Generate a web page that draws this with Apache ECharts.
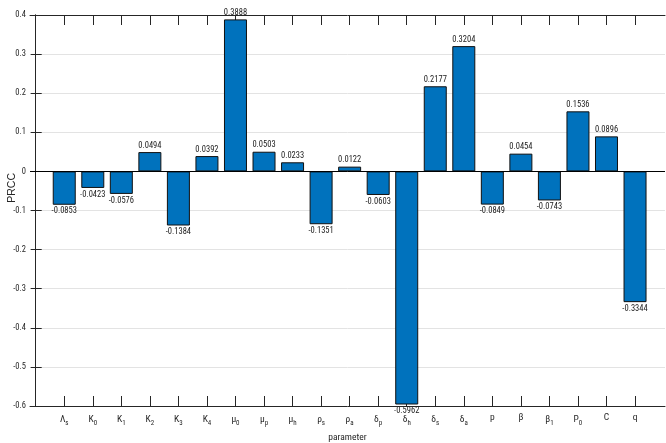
<!DOCTYPE html>
<html>
<head>
<meta charset="utf-8">
<script src="https://cdn.jsdelivr.net/npm/echarts@6/dist/echarts.min.js"></script>
<style>
  html, body { margin: 0; padding: 0; background: #fff; }
  #chart { width: 666px; height: 443px; }
</style>
</head>
<body>
<div id="chart"></div>
<script>
// Parameter names: base symbol and subscript
const paramBase = ['Λ', 'K', 'K', 'K', 'K', 'K', 'μ', 'μ', 'μ', 'ρ', 'ρ', 'δ', 'δ', 'δ', 'δ', 'p', 'β', 'β', 'P', 'C', 'q'];
const paramSub  = ['s', '0', '1', '2', '3', '4', '0', 'p', 'h', 's', 'a', 'p', 'h', 's', 'a', '', '', '1', '0', '', ''];
// Partial rank correlation coefficients
const prcc = [-0.0853, -0.0423, -0.0576, 0.0494, -0.1384, 0.0392, 0.3888, 0.0503, 0.0233, -0.1351, 0.0122,
              -0.0603, -0.5962, 0.2177, 0.3204, -0.0849, 0.0454, -0.0743, 0.1536, 0.0896, -0.3344];
const yTicks = [-0.6, -0.5, -0.4, -0.3, -0.2, -0.1, 0, 0.1, 0.2, 0.3, 0.4];

const FONT = "'Roboto Condensed', 'Liberation Sans', Arial, sans-serif";
const NAME_FONT = "'Liberation Sans', Arial, sans-serif";
const AXIS_COLOR = '#262626';
const positions = prcc.map((_, i) => i + 1);

function catLabel(v) {
  const i = Math.round(v) - 1;
  if (i < 0 || i >= paramBase.length) return '';
  const b = '{b|' + paramBase[i] + '}';
  return paramSub[i] ? b + '{s|' + paramSub[i] + '}' : b;
}

const chart = echarts.init(document.getElementById('chart'));

const xCommon = {
  type: 'value',
  min: -0.2,
  max: 22.05,
  splitLine: { show: false },
  axisLine: { show: true, onZero: false, lineStyle: { color: AXIS_COLOR, width: 1 } },
  axisTick: { show: true, inside: true, length: 10, customValues: positions, lineStyle: { color: AXIS_COLOR } }
};

chart.setOption({
  animation: false,
  textStyle: { fontFamily: FONT },
  grid: { left: 30, right: 1, top: 15, bottom: 37, outerBoundsMode: 'none', containLabel: false },
  xAxis: [
    Object.assign({}, xCommon, {
      position: 'bottom',
      name: 'parameter',
      nameLocation: 'middle',
      nameGap: 27,
      nameTextStyle: { color: AXIS_COLOR, fontSize: 9.5, fontFamily: FONT },
      axisLabel: {
        show: true,
        customValues: positions,
        margin: 7,
        color: AXIS_COLOR,
        formatter: catLabel,
        rich: {
          b: { fontSize: 9.5, fontFamily: FONT, color: AXIS_COLOR },
          s: { fontSize: 7, fontFamily: FONT, color: AXIS_COLOR, padding: [7, 0, 0, 0] }
        }
      }
    }),
    Object.assign({}, xCommon, {
      position: 'top',
      axisLabel: { show: false }
    })
  ],
  yAxis: [
    {
      type: 'value',
      min: -0.6,
      max: 0.4,
      interval: 0.1,
      axisLine: { show: true, lineStyle: { color: AXIS_COLOR } },
      axisTick: { show: true, inside: true, length: 6, lineStyle: { color: AXIS_COLOR } },
      axisLabel: {
        color: AXIS_COLOR, fontSize: 8.5, fontFamily: FONT, margin: 4,
        formatter: v => String(+v.toFixed(1))
      },
      splitLine: { show: true, lineStyle: { color: '#e3e3e3', width: 1 } }
    },
    {
      type: 'value',
      min: -0.6,
      max: 0.4,
      interval: 0.1,
      position: 'right',
      axisLine: { show: true, lineStyle: { color: AXIS_COLOR } },
      axisTick: { show: true, inside: true, length: 5, lineStyle: { color: AXIS_COLOR } },
      axisLabel: { show: false },
      splitLine: { show: false }
    }
  ],
  graphic: [
    {
      type: 'text',
      left: 7,
      top: 173,
      rotation: Math.PI / 2,
      style: { text: 'PRCC', fill: AXIS_COLOR, font: '10.5px ' + NAME_FONT }
    }
  ],
  series: [
    {
      type: 'bar',
      xAxisIndex: 0,
      yAxisIndex: 0,
      barWidth: 23,
      itemStyle: { color: '#0072BD', borderColor: '#111', borderWidth: 1 },
      label: {
        show: true,
        distance: 2,
        fontSize: 8.5,
        fontFamily: FONT,
        color: '#222',
        formatter: p => p.value[1].toFixed(4)
      },
      data: prcc.map((v, i) => ({
        value: [positions[i], v],
        label: { position: v < 0 ? 'bottom' : 'top' }
      })),
      markLine: {
        silent: true,
        symbol: 'none',
        label: { show: false },
        lineStyle: { color: '#000', width: 1, type: 'solid' },
        data: [{ yAxis: 0 }]
      }
    }
  ]
});
</script>
</body>
</html>
